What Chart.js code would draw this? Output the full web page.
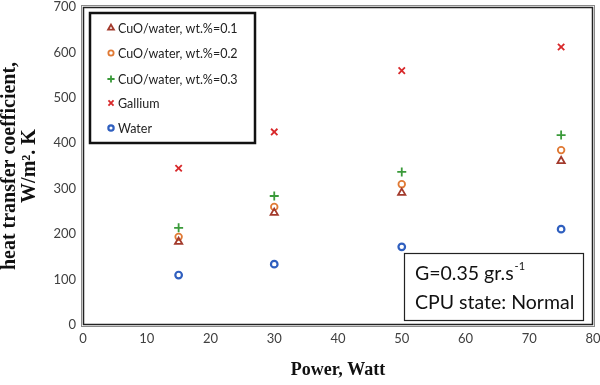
<!DOCTYPE html>
<html><head><meta charset="utf-8">
<script src="https://cdn.jsdelivr.net/npm/chart.js@4/dist/chart.umd.min.js"></script>
<style>html,body{margin:0;padding:0;background:#fff}#wrap{width:600px;height:385px}</style>
</head><body><div id="wrap"><canvas id="c" width="600" height="385"></canvas></div>
<script>
const power = [15, 30, 50, 75];
const cuo01 = [183, 247, 291, 361];
const cuo02 = [194, 260, 310, 385];
const cuo03 = [214, 284, 337, 418];
const gallium = [345, 425, 560, 612];
const water = [110, 134, 172, 211];
const seriesNames = ['CuO/water, wt.%=0.1','CuO/water, wt.%=0.2','CuO/water, wt.%=0.3','Gallium','Water'];
const yTicks = [0,100,200,300,400,500,600,700];
const xTicks = [0,10,20,30,40,50,60,70,80];

const pts = v => power.map((x,i)=>({x, y:v[i]}));
const styles = [
  {style:'triangle', color:'#a33a2c', r:4.2, bw:1.8},
  {style:'circle', color:'#e07a35', r:3.3, bw:1.8},
  {style:'cross', color:'#3a9a3a', r:4.5, bw:1.8},
  {style:'crossRot', color:'#d8282a', r:4.5, bw:1.8},
  {style:'circle', color:'#2f5fbf', r:3.3, bw:2.2}
];
const vals = [cuo01, cuo02, cuo03, gallium, water];
const datasets = vals.map((v,i)=>({
  label: seriesNames[i], data: pts(v), showLine:false,
  pointStyle: styles[i].style, pointRadius: styles[i].r, pointHoverRadius: styles[i].r,
  borderColor: styles[i].color, backgroundColor:'rgba(0,0,0,0)', pointBorderWidth: styles[i].bw
}));

const deco = {
  id:'deco',
  afterDraw(chart){
    const ctx = chart.ctx, a = chart.chartArea;
    ctx.save();
    // plot frame (double line)
    ctx.strokeStyle = '#8a8a8a'; ctx.lineWidth = 1;
    ctx.strokeRect(a.left-1.5, a.top-1.5, a.right-a.left+3, a.bottom-a.top+3);
    ctx.strokeStyle = '#222'; ctx.lineWidth = 1.5;
    ctx.strokeRect(a.left+0.5, a.top+0.5, a.right-a.left-1, a.bottom-a.top-1);
    // legend box
    const lx = 90, ly = 13, lw = 165, lh = 130;
    ctx.strokeStyle = '#111'; ctx.lineWidth = 2.5;
    ctx.strokeRect(lx, ly, lw, lh);
    ctx.font = '12.5px Lato, "Open Sans", sans-serif';
    ctx.textBaseline = 'middle'; ctx.textAlign = 'left';
    const ys = [28, 53, 79, 103, 128];
    seriesNames.forEach((n,i)=>{
      const s = styles[i];
      ctx.strokeStyle = s.color; ctx.fillStyle = 'rgba(0,0,0,0)'; ctx.lineWidth = s.bw;
      Chart.helpers.drawPoint(ctx, {pointStyle:s.style, radius: s.r*0.8, borderWidth:s.bw}, 111, ys[i]);
      ctx.fillStyle = '#222';
      ctx.fillText(n, 118, ys[i]+0.5);
    });
    // annotation box
    ctx.strokeStyle = '#222'; ctx.lineWidth = 1.2;
    ctx.strokeRect(404.5, 253.5, 179, 67);
    ctx.fillStyle = '#111';
    ctx.font = '19.5px Lato, "Open Sans", sans-serif';
    ctx.fillText('G=0.35 gr.s', 415, 274);
    const w = ctx.measureText('G=0.35 gr.s').width;
    ctx.font = '11px Lato, "Open Sans", sans-serif';
    ctx.fillText('-1', 415 + w + 1, 266);
    ctx.font = '19.5px Lato, "Open Sans", sans-serif';
    ctx.fillText('CPU state: Normal', 415, 303);
    ctx.restore();
  }
};

new Chart(document.getElementById('c'), {
  type:'scatter',
  data:{datasets},
  options:{
    responsive:false, animation:false,
    layout:{padding:{left:0, right:7, top:7, bottom:0}},
    plugins:{legend:{display:false}, tooltip:{enabled:false}},
    scales:{
      x:{
        type:'linear', min:0, max:80,
        afterBuildTicks: s => { s.ticks = xTicks.map(v=>({value:v})); },
        grid:{display:false, drawTicks:false},
        border:{display:false},
        ticks:{color:'#404040', font:{size:13, family:'Lato, "Open Sans", sans-serif'}, padding:6, maxRotation:0},
        title:{display:true, text:'Power, Watt', color:'#111', font:{size:18, weight:'bold', family:'"Liberation Serif", "DejaVu Serif", serif'}, padding:{top:18}},
        afterFit: s => { s.height = 60; s.paddingLeft = 0; s.paddingRight = 0; }
      },
      y:{
        type:'linear', min:0, max:700,
        afterBuildTicks: s => { s.ticks = yTicks.map(v=>({value:v})); },
        grid:{display:false, drawTicks:false},
        border:{display:false},
        ticks:{color:'#404040', font:{size:13, family:'Lato, "Open Sans", sans-serif'}, padding:7},
        title:{display:true, text:['heat transfer coefficient,','W/m². K'], color:'#111', font:{size:20, weight:'bold', family:'"Liberation Serif", "DejaVu Serif", serif', lineHeight:1.0}, padding:{top:0,bottom:0}},
        afterFit: s => { s.width = 83; s.paddingTop = 0; s.paddingBottom = 0; }
      }
    }
  },
  plugins:[deco]
});
</script>
</body></html>
